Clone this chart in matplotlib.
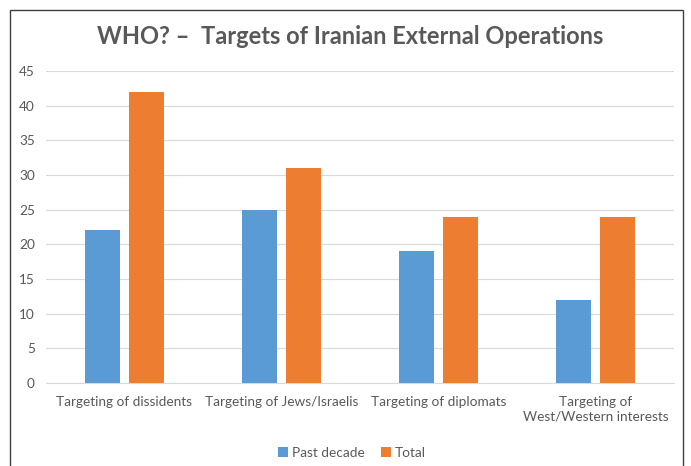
import numpy as np
import matplotlib.pyplot as plt
from matplotlib.patches import Rectangle

categories = ['Targeting of dissidents', 'Targeting of Jews/Israelis',
              'Targeting of diplomats', 'Targeting of\nWest/Western interests']
past_decade = [22, 25, 19, 12]
total = [42, 31, 24, 24]

plt.rcParams['font.family'] = ['Lato', 'DejaVu Sans']
grey = '#595959'

fig = plt.figure(figsize=(6.91, 4.66), dpi=100)
ax = fig.add_axes([46 / 691, 1 - 383 / 466, 628 / 691, 312 / 466])

x = np.arange(len(categories))
w = 0.223
off = (w + 0.057) / 2
ax.bar(x - off, past_decade, w, color='#5B9BD5', label='Past decade', zorder=3)
ax.bar(x + off, total, w, color='#ED7D31', label='Total', zorder=3)

ax.set_xlim(-0.5, 3.5)
ax.set_ylim(0, 45)
ax.set_yticks(range(0, 46, 5))
ax.yaxis.grid(True, color='#D9D9D9', linewidth=0.8)
ax.set_axisbelow(True)
for s in ['top', 'right', 'left']:
    ax.spines[s].set_visible(False)
ax.spines['bottom'].set_color('#D9D9D9')
ax.tick_params(axis='both', length=0, colors=grey, labelsize=9.8)
ax.tick_params(axis='y', pad=8)
ax.set_xticks(x)
ax.set_xticklabels(categories, linespacing=1.3)
ax.tick_params(axis='x', pad=9)

fig.text(350 / 691, 1 - 36 / 466, 'WHO? \u2013  Targets of Iranian External Operations',
         ha='center', va='center', fontsize=17, fontweight='bold', color=grey)

fig.legend(loc='center', bbox_to_anchor=(352 / 691, 1 - 453 / 466), ncol=2,
           frameon=False, fontsize=9.8, handlelength=0.7, handleheight=0.7,
           handletextpad=0.3, columnspacing=1.2, labelcolor=grey)

fig.add_artist(Rectangle((10 / 691, -0.1), 673 / 691, 1.1 - 10 / 466,
                         transform=fig.transFigure, fill=False,
                         edgecolor='#404040', linewidth=1))

fig.savefig('out.png', dpi=100)
